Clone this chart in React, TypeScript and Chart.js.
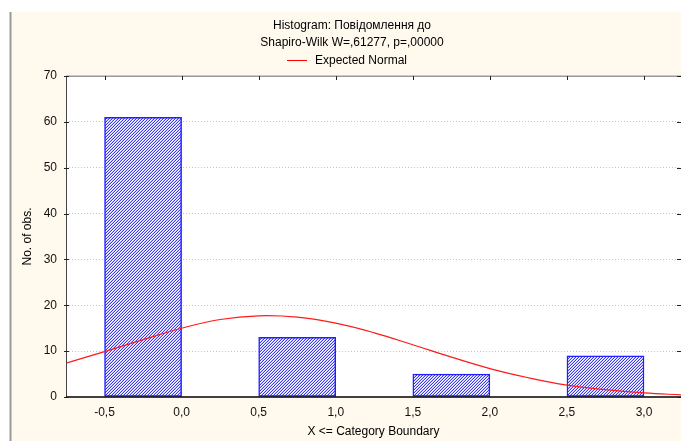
import React, { useEffect, useRef } from 'react';
import { Chart, registerables } from 'chart.js';

Chart.register(...registerables);

// ---- data ----
const binUpperEdges = [0.0, 1.0, 2.0, 3.0];
const binCounts = [61, 13, 5, 9];
const binWidth = 0.5;

const normalX = [-0.75, -0.5, -0.25, 0.0, 0.25, 0.5, 0.75, 1.0, 1.25, 1.5, 1.75, 2.0, 2.25, 2.5, 2.75, 3.0, 3.25];
const normalY = [7.4, 9.9, 12.5, 15.0, 16.9, 17.7, 17.4, 16.1, 14.0, 11.4, 8.7, 6.2, 4.2, 2.6, 1.6, 0.9, 0.45];

const xTickValues = [-0.5, 0.0, 0.5, 1.0, 1.5, 2.0, 2.5, 3.0];
const yTickValues = [0, 10, 20, 30, 40, 50, 60, 70];

const titleLines = ['Histogram: Повідомлення до', 'Shapiro-Wilk W=,61277, p=,00000'];
const legendLabel = 'Expected Normal';
const xAxisTitle = 'X <= Category Boundary';
const yAxisTitle = 'No. of obs.';

const FONT = "Arial, 'Liberation Sans', sans-serif";

function makeHatch(): CanvasPattern | string {
  const c = document.createElement('canvas');
  c.width = 3;
  c.height = 3;
  const g = c.getContext('2d');
  if (!g) return '#8888ff';
  g.fillStyle = '#ffffff';
  g.fillRect(0, 0, 3, 3);
  for (let x = 0; x < 3; x++) {
    for (let y = 0; y < 3; y++) {
      const k = (x + y) % 3;
      if (k === 2) {
        g.fillStyle = '#3535ff';
        g.fillRect(x, y, 1, 1);
      } else if (k === 1) {
        g.fillStyle = '#c8c8ff';
        g.fillRect(x, y, 1, 1);
      }
    }
  }
  const p = g.createPattern(c, 'repeat');
  return p || '#8888ff';
}

const framePlugin = {
  id: 'statFrame',
  beforeDraw(chart: any) {
    const { ctx, width, height, chartArea } = chart;
    ctx.save();
    ctx.fillStyle = '#ffffff';
    ctx.fillRect(0, 0, width, height);
    ctx.fillStyle = '#fff9ee';
    ctx.fillRect(11, 12, width - 11, height - 12);
    ctx.fillStyle = '#9a9a9a';
    ctx.fillRect(9.5, 12, 2, height - 12);
    ctx.fillStyle = '#ffffff';
    ctx.fillRect(chartArea.left, chartArea.top, chartArea.right - chartArea.left, chartArea.bottom - chartArea.top);
    ctx.restore();
  },
  afterDatasetsDraw(chart: any) {
    const { ctx, chartArea } = chart;
    const { left, right, top, bottom } = chartArea;
    const xs = chart.scales.x;
    const ys = chart.scales.y;
    ctx.save();
    // top border
    ctx.strokeStyle = '#9a9a9a';
    ctx.lineWidth = 1.5;
    ctx.beginPath();
    ctx.moveTo(left, top + 0.25);
    ctx.lineTo(right, top + 0.25);
    ctx.stroke();
    // left axis
    ctx.strokeStyle = '#444444';
    ctx.lineWidth = 1;
    ctx.beginPath();
    ctx.moveTo(left + 0.5, top);
    ctx.lineTo(left + 0.5, bottom);
    ctx.stroke();
    // bottom axis
    ctx.strokeStyle = '#000000';
    ctx.lineWidth = 1.5;
    ctx.beginPath();
    ctx.moveTo(left, bottom);
    ctx.lineTo(right, bottom);
    ctx.stroke();
    // top ticks
    ctx.strokeStyle = '#222222';
    ctx.lineWidth = 1;
    for (const v of xTickValues) {
      const px = Math.round(xs.getPixelForValue(v)) + 0.5;
      ctx.beginPath();
      ctx.moveTo(px, top);
      ctx.lineTo(px, top + 4);
      ctx.stroke();
    }
    // y ticks (left and right)
    for (const v of yTickValues) {
      const py = Math.round(ys.getPixelForValue(v)) + 0.5;
      ctx.beginPath();
      ctx.moveTo(left - 2, py);
      ctx.lineTo(left + 3, py);
      ctx.stroke();
      ctx.beginPath();
      ctx.moveTo(right - 4, py);
      ctx.lineTo(right, py);
      ctx.stroke();
    }
    ctx.restore();
  },
  afterDraw(chart: any) {
    const { ctx } = chart;
    ctx.save();
    ctx.font = `12px ${FONT}`;
    ctx.fillStyle = '#000000';
    ctx.textAlign = 'center';
    ctx.textBaseline = 'middle';
    ctx.fillText(titleLines[0], 352, 25.5);
    ctx.fillText(titleLines[1], 352, 43);
    // legend
    ctx.strokeStyle = '#ff0000';
    ctx.lineWidth = 1;
    ctx.beginPath();
    ctx.moveTo(287, 60.5);
    ctx.lineTo(307, 60.5);
    ctx.stroke();
    ctx.textAlign = 'left';
    ctx.fillText(legendLabel, 315, 61);
    ctx.restore();
  },
};

export default function App() {
  const ref = useRef<HTMLCanvasElement | null>(null);

  useEffect(() => {
    document.body.style.margin = '0';
    const canvas = ref.current;
    if (!canvas) return;
    const hatch = makeHatch();

    const barData = binUpperEdges.map((edge, i) => ({ x: edge - binWidth / 2, y: binCounts[i] }));
    const lineData = normalX.map((x, i) => ({ x, y: normalY[i] }));

    const chart = new Chart(canvas, {
      type: 'bar',
      data: {
        datasets: [
          {
            type: 'line',
            label: legendLabel,
            data: lineData,
            borderColor: '#ff1a1a',
            borderWidth: 1.2,
            pointRadius: 0,
            tension: 0.4,
            fill: false,
            order: 0,
          } as any,
          {
            type: 'bar',
            label: 'Histogram',
            data: barData,
            backgroundColor: hatch as any,
            borderColor: '#1f1fff',
            borderWidth: 1.5,
            borderSkipped: false,
            barPercentage: 1,
            categoryPercentage: 1,
            order: 1,
          } as any,
        ],
      },
      options: {
        responsive: false,
        animation: false,
        devicePixelRatio: 1,
        layout: { padding: { top: 76, left: 0, right: 0, bottom: 0 } },
        plugins: {
          legend: { display: false },
          title: { display: false },
          tooltip: { enabled: false },
        },
        scales: {
          x: {
            type: 'linear',
            min: -0.75,
            max: 3.24,
            offset: false,
            grid: { display: false, offset: false },
            border: { display: false },
            afterBuildTicks: (scale: any) => {
              scale.ticks = xTickValues.map((v) => ({ value: v }));
            },
            afterFit: (scale: any) => {
              scale.height = 44;
            },
            ticks: {
              padding: 0,
              color: '#111111',
              font: { family: FONT, size: 12 },
              maxRotation: 0,
              autoSkip: false,
              callback: (v: any) => Number(v).toFixed(1).replace('.', ','),
            },
            title: {
              display: true,
              text: xAxisTitle,
              color: '#000000',
              font: { family: FONT, size: 12 },
              padding: { top: 0, bottom: 2 },
            },
          },
          y: {
            type: 'linear',
            min: 0,
            max: 70,
            afterBuildTicks: (scale: any) => {
              scale.ticks = yTickValues.map((v) => ({ value: v }));
            },
            afterFit: (scale: any) => {
              scale.width = 66;
            },
            grid: {
              drawTicks: false,
              lineWidth: 1,
              color: (c: any) =>
                c.tick && (c.tick.value === 0 || c.tick.value === 70) ? 'rgba(0,0,0,0)' : '#c4c4c4',
            },
            border: { display: false, dash: [1, 2] },
            ticks: {
              padding: 9,
              color: '#111111',
              font: { family: FONT, size: 12 },
              callback: (v: any) => String(v),
            },
            title: {
              display: true,
              text: yAxisTitle,
              color: '#000000',
              font: { family: FONT, size: 12 },
              padding: { top: 20, bottom: 0 },
            },
          },
        },
      },
      plugins: [framePlugin],
    });

    return () => {
      chart.destroy();
    };
  }, []);

  return (
    <div style={{ width: 681, height: 441 }}>
      <canvas ref={ref} width={681} height={441} style={{ display: 'block', width: 681, height: 441 }} />
    </div>
  );
}
